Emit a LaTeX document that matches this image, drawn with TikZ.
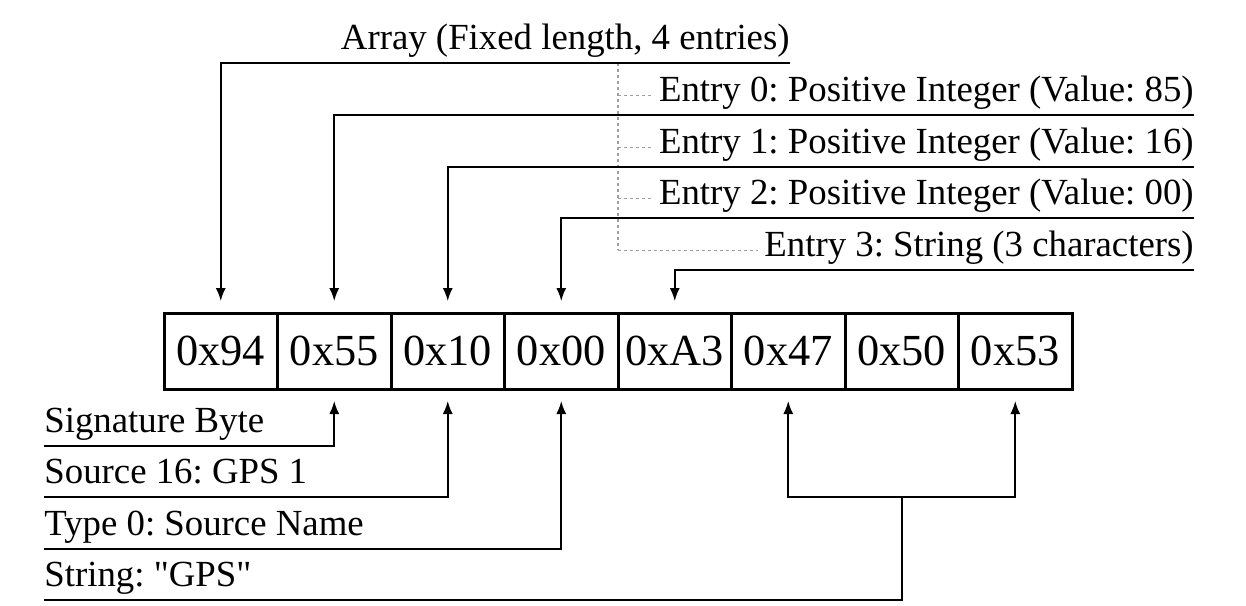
\documentclass[tikz,border=0pt]{standalone}
\usepackage{fontspec}
\setmainfont{Liberation Serif}
\usetikzlibrary{arrows.meta, positioning}
\frenchspacing

\begin{document}
\begin{tikzpicture}[x=0.5pt, y=-0.5pt]

\tikzstyle{byte} = [rectangle, draw=black, line width=1.5pt, minimum width=56.75pt, minimum height=38pt, inner sep=0pt, outer sep=0pt, font=\fontsize{22.2}{26}\selectfont]
\tikzstyle{field} = [inner sep=0pt, text depth=6.5pt, font=\fontsize{18.4}{22}\selectfont]
\tikzstyle{arrow} = [line width=0.8pt, -{Latex[length=6.5pt, width=5pt]}, shorten >=6pt]
\tikzstyle{line} = [line width=0.8pt]
\tikzstyle{tree} = [draw=gray!75, dash pattern=on 1.6pt off 1.4pt, line width=0.5pt]

\useasboundingbox (0,0) rectangle (1246,605);

% message bytes
\node (b0)[byte, anchor=north west] at (164,313) {0x94};
\node (b1)[byte, right=0pt of b0] {0x55};
\node (b2)[byte, right=0pt of b1] {0x10};
\node (b3)[byte, right=0pt of b2] {0x00};
\node (b4)[byte, right=0pt of b3] {0xA3};
\node (b5)[byte, right=0pt of b4] {0x47};
\node (b6)[byte, right=0pt of b5] {0x50};
\node (b7)[byte, right=0pt of b6] {0x53};

% array and its entries
\node (arr)[field, anchor=south east] at (790,63) {Array (Fixed length, 4 entries)};
\node (e0)[field, anchor=south east] at (1194,115) {Entry 0: Positive Integer (Value: 85)};
\node (e1)[field, anchor=south east] at (1194,167) {Entry 1: Positive Integer (Value: 16)};
\node (e2)[field, anchor=south east] at (1194,218) {Entry 2: Positive Integer (Value: 00)};
\node (e3)[field, anchor=south east] at (1194,270) {Entry 3: String (3 characters)};

% header fields
\node (sig)[field, anchor=south west] at (44,446) {Signature Byte};
\node (src)[field, anchor=south west] at (44,497) {Source 16: GPS 1};
\node (typ)[field, anchor=south west] at (44,549) {Type 0: Source Name};
\node (str)[field, anchor=south west] at (44,600) {String: \textquotedbl GPS\textquotedbl};

% entry tree
\draw[tree, line width=1.1pt] (b4.west |- arr.south) -- (b4.west |- e3.west);
\draw[tree, shorten >=3pt] (b4.west |- e0.west) -- (e0.west);
\draw[tree, shorten >=3pt] (b4.west |- e1.west) -- (e1.west);
\draw[tree, shorten >=3pt] (b4.west |- e2.west) -- (e2.west);
\draw[tree, shorten >=3pt] (b4.west |- e3.west) -- (e3.west);

% arrows from above
\draw[arrow] (arr.south east) -| (b0.north);
\draw[arrow] (e0.south east) -| (b1.north);
\draw[arrow] (e1.south east) -| (b2.north);
\draw[arrow] (e2.south east) -| (b3.north);
\draw[arrow] (e3.south east) -| (b4.north);

% arrows from below
\draw[arrow] (sig.south west) -| (b1.south);
\draw[arrow] (src.south west) -| (b2.south);
\draw[arrow] (typ.south west) -| (b3.south);
\coordinate (fork) at (b6.south |- src.south);
\draw[line] (str.south west) -| (fork);
\draw[arrow] (fork) -| (b5.south);
\draw[arrow] (fork) -| (b7.south);

\end{tikzpicture}
\end{document}
